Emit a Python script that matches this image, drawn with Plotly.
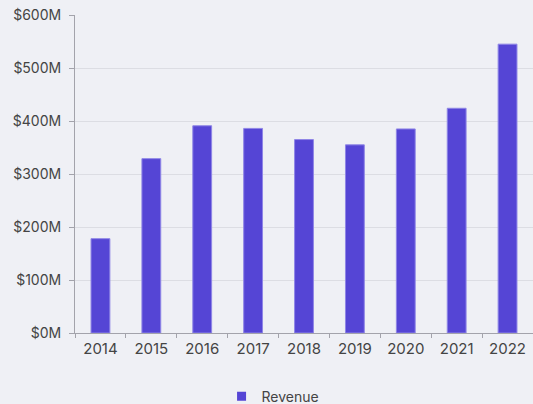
import plotly.graph_objects as go

years = ["2014", "2015", "2016", "2017", "2018", "2019", "2020", "2021", "2022"]
revenue_musd = [178, 329, 391, 386, 365, 355, 385, 424, 545]
y_tick_values = [0, 100, 200, 300, 400, 500, 600]
y_tick_labels = ["$0M", "$100M", "$200M", "$300M", "$400M", "$500M", "$600M"]

bg = "#eff0f5"
bar_color = "#5545d5"
text_color = "#444444"

fig = go.Figure()
fig.add_trace(go.Bar(
    x=years,
    y=revenue_musd,
    name="Revenue",
    marker=dict(color=bar_color, line=dict(color="#8f86e6", width=1)),
    showlegend=False,
))
# legend entry with a small square swatch
fig.add_trace(go.Scatter(
    x=[None], y=[None],
    mode="markers",
    name="Revenue",
    marker=dict(symbol="square", size=9, color=bar_color),
    showlegend=True,
))

fig.update_layout(
    width=533, height=404,
    paper_bgcolor=bg, plot_bgcolor=bg,
    margin=dict(l=75, r=0, t=15, b=71, autoexpand=False),
    bargap=0.63,
    font=dict(family="Inter, Roboto, sans-serif", size=14, color=text_color),
    legend=dict(
        orientation="h",
        x=0.32, xanchor="left",
        y=-0.2, yanchor="middle",
        bgcolor="rgba(0,0,0,0)",
        font=dict(size=14, color=text_color),
    ),
    xaxis=dict(
        type="category",
        showgrid=False,
        showline=True, linecolor="#a3a3ab", linewidth=1,
        ticks="outside", tickson="boundaries", ticklen=4, tickcolor="#a3a3ab",
        tickfont=dict(size=15),
        ticklabelstandoff=2,
    ),
    yaxis=dict(
        range=[0, 600],
        tickvals=y_tick_values, ticktext=y_tick_labels,
        showgrid=True, gridcolor="#dcdde3", gridwidth=1,
        showline=True, linecolor="#a3a3ab", linewidth=1,
        ticks="outside", ticklen=5, tickcolor="#a3a3ab",
        tickfont=dict(size=14),
        ticklabelstandoff=5,
        zeroline=False,
    ),
)

fig.write_html("out.html")
